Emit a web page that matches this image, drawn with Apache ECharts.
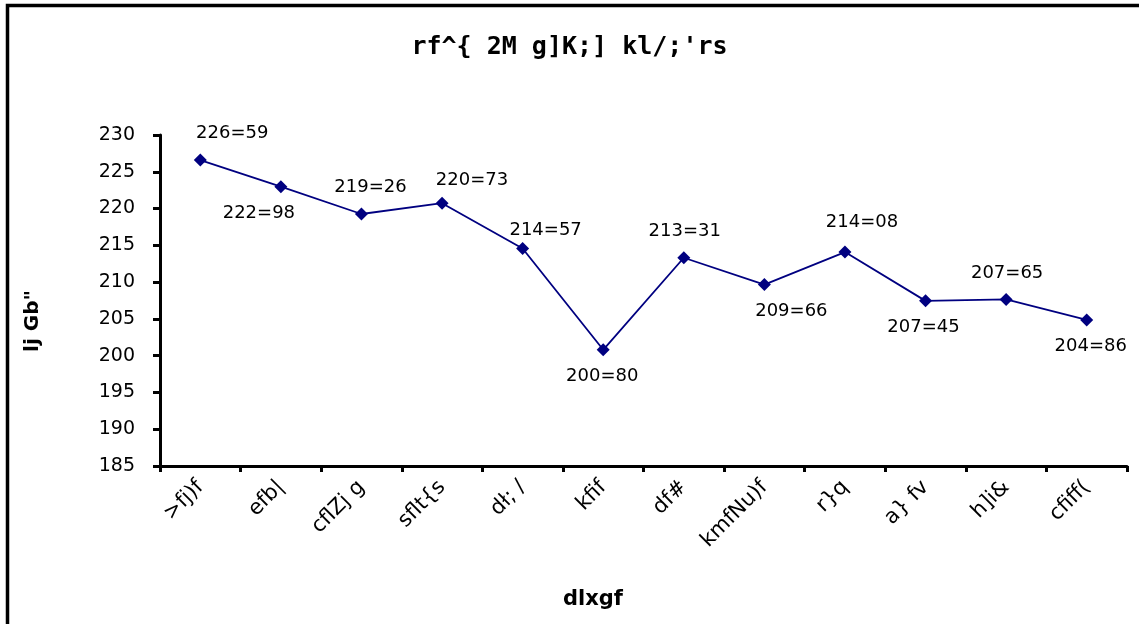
<!DOCTYPE html>
<html>
<head>
<meta charset="utf-8">
<script src="https://cdn.jsdelivr.net/npm/echarts@6/dist/echarts.min.js"></script>
<style>
  html, body { margin: 0; padding: 0; background: #fff; }
  #chart { width: 1139px; height: 624px; }
</style>
</head>
<body>
<div id="chart"></div>
<script>
// 数据
var titleText = "rf^{ 2M g]K;] kl/;'rs"
var xName = 'dlxgf'
var yName = 'lj Gb"'
var months = ['>fj)f', 'efb|', 'cflZj g', 'sflt{s', 'dł; /', 'kfif', 'df#', 'kmfNu)f', 'r}q', 'a} fv', 'h]i&', 'cfiff(']
var values = [226.59, 222.98, 219.26, 220.73, 214.57, 200.80, 213.31, 209.66, 214.08, 207.45, 207.65, 204.86]

// 标签位置（上/下）与微调
var labelSide = ['top', 'bottom', 'top', 'top', 'top', 'bottom', 'top', 'bottom', 'top', 'bottom', 'top', 'bottom']
var labelShift = [[32, 0], [-22, 0], [9, 0], [30, 4], [23, 8], [-1, 0], [1, 0], [27, 0], [17, -3], [-2, 0], [1, 0], [4, 0]]

var font = 'DejaVu Sans'

const myChart = echarts.init(document.getElementById('chart'))

var seriesData = values.map(function (v, i) {
  return {
    value: v,
    label: {
      position: labelSide[i],
      offset: labelShift[i]
    }
  }
})

var option = {
  backgroundColor: '#fff',
  animation: false,
  title: {
    text: titleText,
    left: 'center',
    top: 30,
    textStyle: {
      fontFamily: 'DejaVu Sans Mono',
      fontSize: 25,
      fontWeight: 'bold',
      color: '#000'
    }
  },
  grid: {
    left: 160,
    right: 12,
    top: 135,
    bottom: 158
  },
  xAxis: {
    type: 'category',
    data: months,
    boundaryGap: true,
    axisLine: { lineStyle: { color: '#000', width: 3 } },
    axisTick: { show: true, length: 6, lineStyle: { color: '#000', width: 3 } },
    axisLabel: {
      rotate: 45,
      margin: 18,
      interval: 0,
      color: '#000',
      fontFamily: font,
      fontSize: 21
    },
    splitLine: { show: false }
  },
  yAxis: {
    type: 'value',
    min: 185,
    max: 230,
    interval: 5,
    axisLine: { show: true, lineStyle: { color: '#000', width: 3 } },
    axisTick: { show: true, length: 7, lineStyle: { color: '#000', width: 3 } },
    axisLabel: {
      margin: 25,
      color: '#000',
      fontFamily: font,
      fontSize: 19
    },
    splitLine: { show: false }
  },
  graphic: [
    // 外框
    {
      type: 'rect',
      shape: { x: 7.5, y: 5.5, width: 1200, height: 700 },
      style: { fill: 'none', stroke: '#000', lineWidth: 3.5 },
      silent: true
    },
    {
      type: 'text',
      x: 593,
      y: 600,
      style: {
        text: xName,
        fontFamily: font,
        fontSize: 21,
        fontWeight: 'bold',
        fill: '#000',
        align: 'center',
        verticalAlign: 'middle'
      }
    },
    {
      type: 'text',
      x: 33,
      y: 321,
      rotation: Math.PI / 2,
      style: {
        text: yName,
        fontFamily: font,
        fontSize: 20,
        fontWeight: 'bold',
        fill: '#000',
        align: 'center',
        verticalAlign: 'middle'
      }
    }
  ],
  series: [
    {
      name: titleText,
      type: 'line',
      data: seriesData,
      symbol: 'diamond',
      symbolSize: 13,
      lineStyle: { color: '#000080', width: 1.8 },
      itemStyle: { color: '#000080' },
      label: {
        show: true,
        distance: 11,
        color: '#000',
        fontFamily: font,
        fontSize: 18,
        formatter: function (p) {
          return p.value.toFixed(2).replace('.', '=')
        }
      }
    }
  ]
}

myChart.setOption(option)
</script>
</body>
</html>
